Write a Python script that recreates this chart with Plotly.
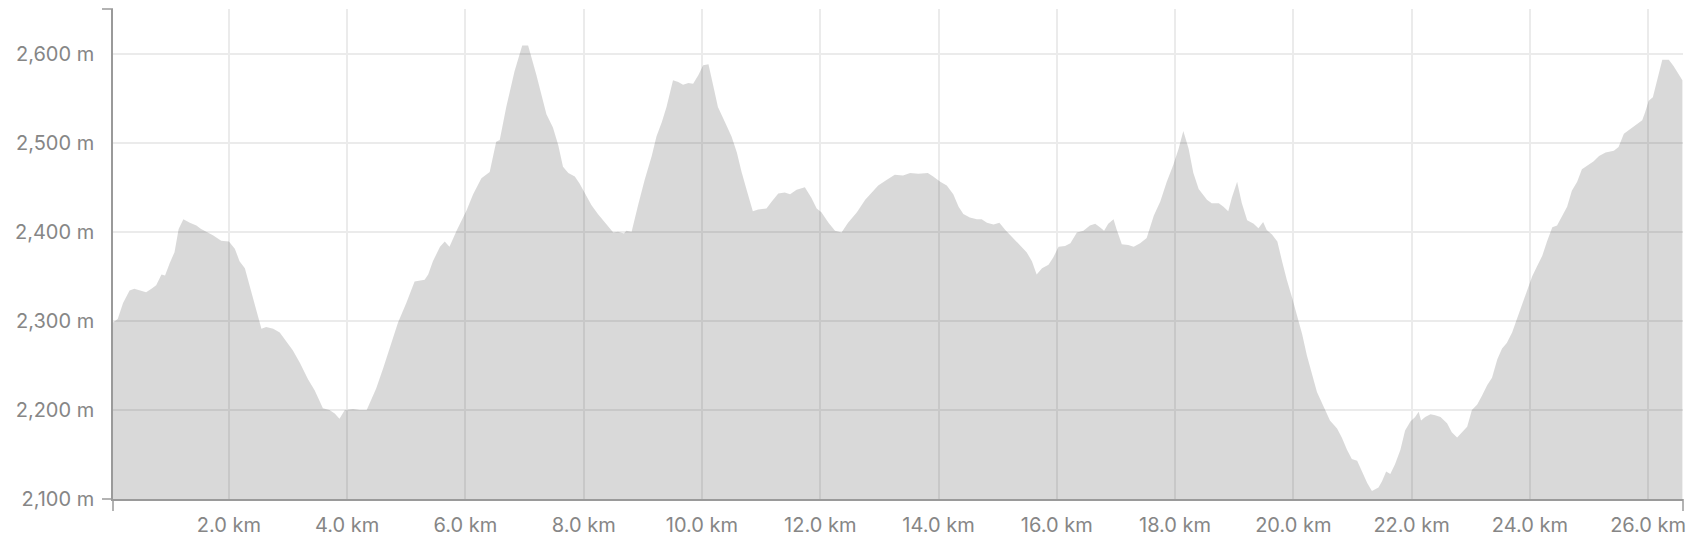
import plotly.graph_objects as go

# Distance along the route (km)
distance_km = [
    0.04, 0.12, 0.21, 0.32, 0.40, 0.49, 0.60, 0.69, 0.77, 0.86, 0.92, 1.00, 1.08, 1.15, 1.23, 1.34,
    1.45, 1.53, 1.73, 1.87, 2.00, 2.10, 2.18, 2.27, 2.35, 2.46, 2.55, 2.63, 2.75, 2.86, 2.97, 3.08,
    3.20, 3.34, 3.45, 3.59, 3.70, 3.79, 3.87, 3.96, 4.10, 4.21, 4.33, 4.49, 4.61, 4.75, 4.86,
    5.00, 5.14, 5.31, 5.37, 5.45, 5.57, 5.65, 5.73, 5.85, 5.93, 6.02, 6.13, 6.27, 6.41, 6.52, 6.58,
    6.69, 6.83, 6.96, 7.06, 7.20, 7.37, 7.48, 7.57, 7.65, 7.74, 7.85, 7.93, 8.00, 8.13, 8.24, 8.36,
    8.50, 8.58, 8.68, 8.72, 8.81, 8.92, 9.03, 9.15, 9.23, 9.32, 9.40, 9.51, 9.60, 9.68, 9.77, 9.85,
    9.94, 10.02, 10.11, 10.19, 10.27, 10.39, 10.50, 10.59, 10.67, 10.76, 10.86, 10.95, 11.09, 11.18,
    11.29, 11.40, 11.49, 11.60, 11.74,
    11.85, 11.94, 12.02, 12.14, 12.25, 12.36, 12.47, 12.62, 12.76, 12.87, 12.98, 13.12, 13.26, 13.40,
    13.52, 13.66, 13.82, 13.91, 14.03, 14.14, 14.25, 14.34, 14.42, 14.53, 14.65, 14.73, 14.82, 14.93,
    15.03, 15.13, 15.24, 15.38, 15.49, 15.58, 15.66, 15.75, 15.86, 15.94, 16.03, 16.14, 16.23, 16.34,
    16.45, 16.56, 16.65, 16.73, 16.80, 16.87, 16.96, 17.01, 17.10, 17.21, 17.30, 17.41, 17.52, 17.64,
    17.75, 17.86, 17.97, 18.06, 18.14, 18.23, 18.31, 18.40,
    18.54, 18.62, 18.74, 18.82, 18.90, 18.96, 19.05, 19.13, 19.22, 19.33, 19.41, 19.49, 19.55, 19.64,
    19.73, 19.81, 19.89, 19.98, 20.06, 20.15, 20.23, 20.32, 20.40, 20.51, 20.62, 20.74, 20.82, 20.91,
    20.99, 21.08, 21.16, 21.25, 21.33, 21.44, 21.50, 21.57, 21.64, 21.72, 21.81, 21.89, 21.98, 22.06,
    22.12, 22.16, 22.23, 22.32, 22.40, 22.49, 22.60, 22.68, 22.77, 22.85, 22.94, 23.02, 23.11, 23.19,
    23.28, 23.36, 23.45, 23.53, 23.61, 23.70, 23.78, 23.87, 23.95, 24.04, 24.12, 24.21, 24.29, 24.38,
    24.46, 24.55, 24.63, 24.71, 24.80, 24.88, 25.00, 25.08, 25.17, 25.28, 25.42, 25.50, 25.59, 25.70,
    25.81, 25.90, 25.95, 26.01, 26.08, 26.15, 26.24, 26.35, 26.43, 26.58,
]

# Elevation (m)
elevation_m = [
    2298, 2302, 2320, 2334, 2336, 2334, 2332, 2336, 2340, 2352, 2351, 2365, 2377, 2403, 2414, 2410,
    2407, 2403, 2396, 2390, 2389, 2381, 2367, 2359, 2340, 2312, 2291, 2293, 2291, 2287, 2277, 2267,
    2253, 2234, 2222, 2202, 2200, 2196, 2190, 2200, 2201, 2200, 2200, 2224, 2247, 2275, 2298,
    2320, 2344, 2346, 2352, 2367, 2383, 2389, 2383, 2401, 2412, 2424, 2442, 2460, 2467, 2501, 2503,
    2540, 2580, 2609, 2609, 2576, 2532, 2517, 2497, 2473, 2466, 2462, 2454, 2446, 2430, 2420, 2410,
    2399, 2400, 2398, 2401, 2400, 2430, 2458, 2485, 2507, 2523, 2540, 2570, 2568, 2565, 2567, 2566,
    2576, 2587, 2588, 2564, 2540, 2523, 2507, 2489, 2467, 2446, 2423, 2425, 2426, 2434,
    2443, 2444, 2442, 2447, 2450,
    2438, 2426, 2422, 2410, 2401, 2399, 2410, 2422, 2436, 2444, 2452, 2458, 2464, 2463,
    2466, 2465, 2466, 2462, 2456, 2452, 2442, 2428, 2420, 2416, 2414, 2414, 2410, 2408,
    2410, 2402, 2394, 2385, 2377, 2367, 2352, 2359, 2363, 2371, 2383, 2384, 2387, 2399,
    2401, 2407, 2409, 2405, 2401, 2409, 2414, 2403, 2386, 2385, 2383, 2387, 2393, 2418,
    2434, 2456, 2475, 2493, 2513, 2493, 2466, 2448,
    2436, 2432, 2432, 2428, 2423, 2438, 2456, 2432, 2413, 2409, 2404, 2411, 2402, 2397,
    2389, 2367, 2346, 2326, 2306, 2285, 2261, 2238, 2220, 2204, 2188, 2179, 2169, 2155,
    2145, 2143, 2131, 2118, 2109, 2113, 2120, 2131, 2128, 2139, 2155, 2177, 2187, 2192,
    2198, 2188, 2192, 2195, 2194, 2192, 2185, 2175, 2169, 2175, 2181, 2200, 2206, 2216,
    2228, 2236, 2257, 2269, 2275, 2287, 2302, 2318, 2334, 2350, 2361, 2373, 2389, 2405,
    2407, 2418, 2428, 2446, 2456, 2470, 2475, 2479, 2485, 2489, 2491, 2495, 2510, 2515,
    2520, 2525, 2534, 2547, 2551, 2570, 2593, 2593, 2586, 2570,
]

x_range = [0.04, 26.59]
y_range = [2100, 2650]
x_ticks = [2, 4, 6, 8, 10, 12, 14, 16, 18, 20, 22, 24, 26]
y_ticks = [2100, 2200, 2300, 2400, 2500, 2600]

FONT = "Inter, 'Liberation Sans', Arial, sans-serif"
LABEL_COLOR = "#868686"
AXIS_COLOR = "#9a9a9a"
GRID_COLOR = "#ebebeb"

fig = go.Figure()
fig.add_trace(go.Scatter(
    x=distance_km,
    y=elevation_m,
    mode="lines",
    fill="tozeroy",
    fillcolor="rgba(0,0,0,0.15)",
    line=dict(width=0, color="rgba(0,0,0,0)"),
    hoverinfo="skip",
    showlegend=False,
))

# The page body adds an 8px margin, so the figure is sized/offset to compensate.
fig.update_layout(
    width=1692,
    height=542,
    margin=dict(l=105, r=17, t=1, b=51, autoexpand=False),
    paper_bgcolor="white",
    plot_bgcolor="white",
    font=dict(family=FONT, size=20, color=LABEL_COLOR),
    xaxis=dict(
        range=x_range,
        tickmode="array",
        tickvals=x_ticks,
        ticktext=[f"{v:.1f} km" for v in x_ticks],
        showgrid=True,
        gridcolor=GRID_COLOR,
        gridwidth=1.5,
        zeroline=False,
        showline=True,
        linecolor=AXIS_COLOR,
        linewidth=1.5,
        ticks="",
        ticklabelstandoff=7,
        automargin=False,
        fixedrange=True,
    ),
    yaxis=dict(
        range=y_range,
        tickmode="array",
        tickvals=y_ticks,
        ticktext=[f"{v:,} m" for v in y_ticks],
        showgrid=True,
        gridcolor=GRID_COLOR,
        gridwidth=1.5,
        zeroline=False,
        showline=True,
        linecolor=AXIS_COLOR,
        linewidth=1.5,
        ticks="",
        ticklabelstandoff=13,
        automargin=False,
        fixedrange=True,
    ),
)

# Outer end ticks of the axis domains (d3-style)
tick_style = dict(type="line", line=dict(color=AXIS_COLOR, width=1.5), layer="above")
for yp in (0, 1):
    fig.add_shape(**tick_style, xref="paper", yref="paper", xsizemode="pixel", xanchor=0,
                  x0=-11, x1=0, y0=yp, y1=yp)
for xp in (0, 1):
    fig.add_shape(**tick_style, xref="paper", yref="paper", ysizemode="pixel", yanchor=0,
                  x0=xp, x1=xp, y0=-12, y1=0)

fig.write_html("out.html")
